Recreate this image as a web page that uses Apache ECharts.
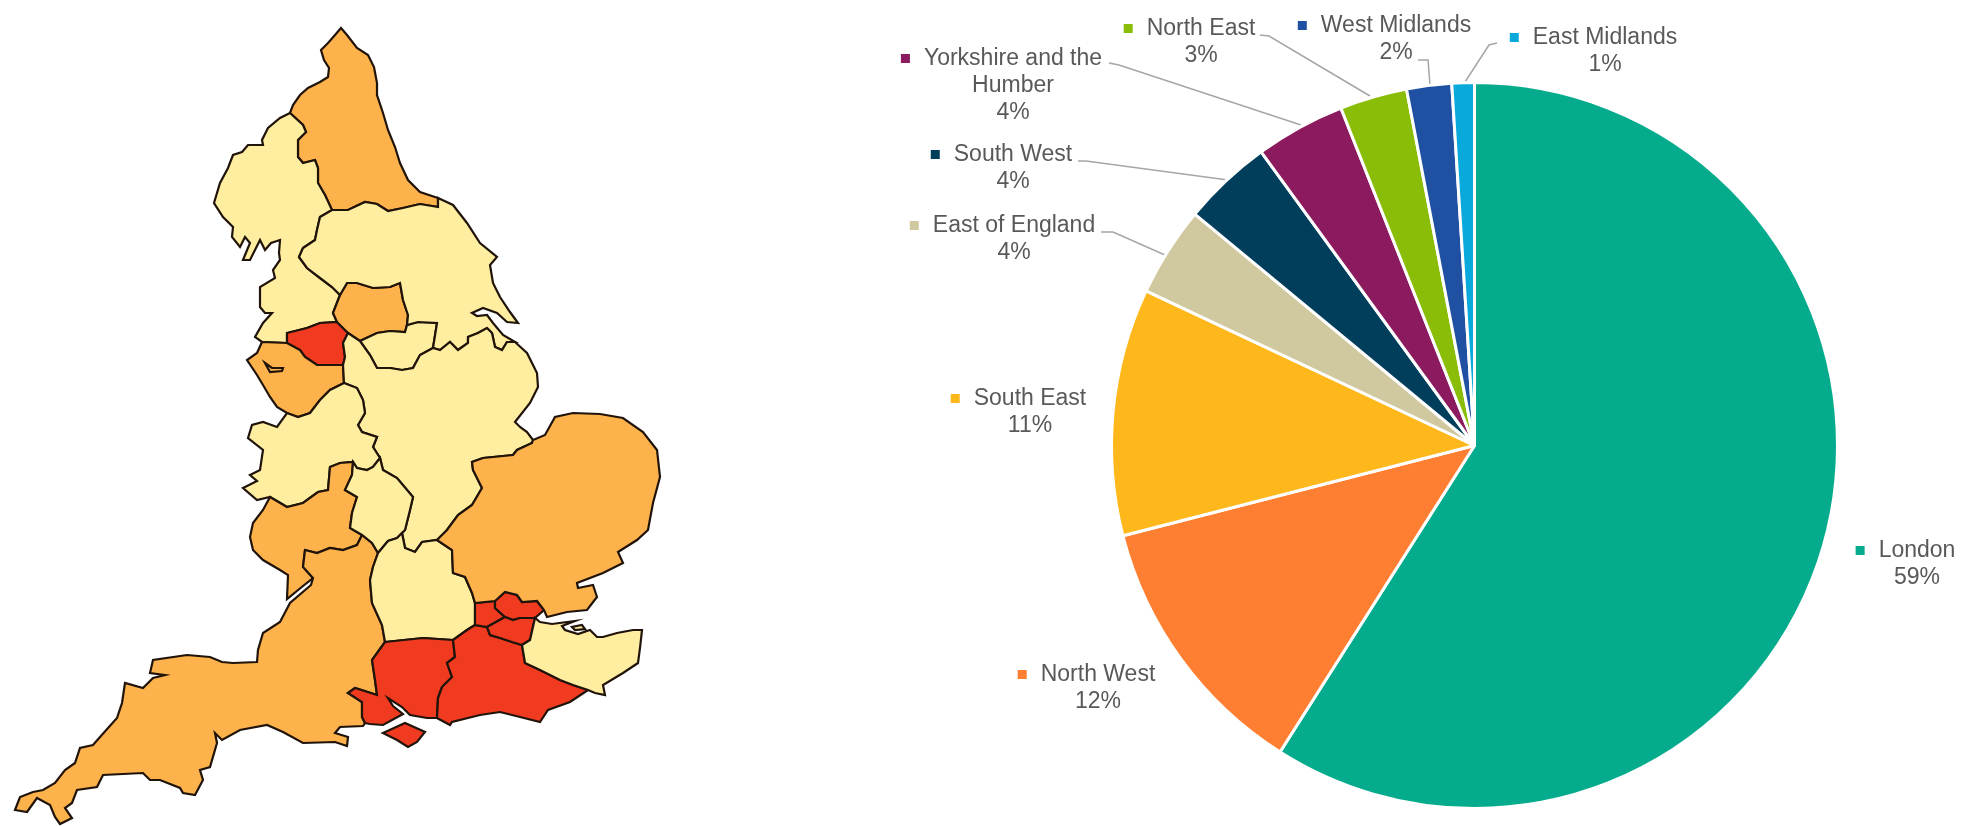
<!DOCTYPE html>
<html>
<head>
<meta charset="utf-8">
<title>England regions</title>
<style>
  html, body { margin: 0; padding: 0; background: #fff; }
  #chart { width: 1969px; height: 826px; }
</style>
<script src="https://cdn.jsdelivr.net/npm/echarts@6/dist/echarts.min.js"></script>
</head>
<body>
<div id="chart"></div>
<script>
// Share of the total by English region
const categories = ['London', 'North West', 'South East', 'East of England', 'South West',
  'Yorkshire and the\nHumber', 'North East', 'West Midlands', 'East Midlands'];
const shares = [59, 12, 11, 4, 4, 4, 3, 2, 1];
const sliceColors = ['#05AB8D', '#FF7F32', '#FFB81C', '#D0C89F', '#003E5C',
  '#8C1A5E', '#8ABD08', '#1F50A2', '#0AA9DC'];

// Choropleth bands for the map areas
const bandColors = ['#FFEDA0', '#FEB24C', '#F03B20'];

// Label anchor (centre x, top y) and leader polyline for every slice
const labelAnchors = [
  [1917, 537], [1098, 661], [1030, 385], [1014, 212], [1013, 141],
  [1013, 45], [1201, 15], [1396, 12], [1605, 24]
];
const leaderLines = [
  null, null, null,
  [[1101, 232], [1113, 232], [1165, 255]],
  [[1078, 161], [1086, 161], [1228, 180]],
  [[1109, 63], [1119, 65], [1301, 125]],
  [[1260, 35], [1269, 36], [1370, 96]],
  [[1418, 60], [1428, 60], [1430, 85]],
  [[1497, 43], [1489, 45], [1465, 82]]
];

// Shared boundaries of the map areas, each used by the two areas either side of it
const borders = {
  neCoast: [[290,113],[293,105],[300,95],[308,88],[320,82],[328,77],[329,68],[324,60],[321,50],[328,43],[335,35],[341,28],[347,35],[357,48],[368,55],[374,67],[377,83],[377,95],[383,113],[388,130],[395,147],[400,163],[408,180],[420,192],[438,198]],
  neSouth: [[438,198],[438,207],[420,204],[403,208],[388,211],[377,204],[365,202],[348,210],[332,210]],
  neWest: [[290,113],[303,125],[306,132],[298,140],[298,157],[303,163],[315,160],[318,168],[318,183],[325,195],[332,210]],
  nwCoast: [[290,113],[280,118],[268,128],[262,140],[263,145],[248,145],[242,152],[233,155],[228,168],[220,183],[214,203],[223,217],[233,227],[232,237],[240,247],[245,237],[250,243],[243,260],[250,260],[260,240],[265,250],[271,243],[280,240],[279,253],[280,260],[273,270],[275,278],[260,287],[260,307],[265,313],[272,313],[263,323],[255,337],[262,342]],
  cheshireTop: [[262,342],[287,343]],
  manchesterTop: [[287,343],[287,333],[307,328],[320,323],[337,322]],
  westYorksWest: [[337,322],[333,313],[340,295]],
  yorksWest: [[340,295],[332,287],[320,278],[307,268],[299,257],[303,248],[315,240],[317,230],[320,217],[332,210]],
  manchesterBottom: [[287,343],[300,350],[305,357],[317,365],[333,365],[343,365]],
  manchesterEast: [[343,365],[345,357],[343,343],[348,333]],
  manchesterNorth: [[348,333],[337,322]],
  cheshireEast: [[343,365],[344,383]],
  cheshireSouth: [[344,383],[330,390],[320,400],[310,413],[298,417],[287,413]],
  cheshireCoast: [[287,413],[277,407],[270,397],[263,385],[257,375],[247,360],[257,353],[262,342]],
  westYorksNorth: [[340,295],[347,283],[357,283],[373,288],[390,287],[400,283],[403,300],[408,315],[407,325]],
  westYorksSouth: [[407,325],[405,332],[390,331],[377,333],[360,341]],
  westYorksCorner: [[360,341],[348,333]],
  southYorksEast: [[407,325],[418,322],[437,323],[433,348]],
  southYorksSouth: [[360,341],[370,355],[377,368],[390,368],[402,370],[413,368],[420,355],[433,348]],
  yorksCoast: [[438,198],[453,205],[467,223],[480,243],[497,257],[490,265],[493,283],[500,297],[510,312],[518,323],[507,322],[497,313],[483,308],[472,313],[477,316],[487,315],[493,323],[503,335],[515,342]],
  yorksSouth: [[515,342],[507,342],[502,350],[495,347],[492,333],[487,328],[478,333],[468,337],[468,343],[458,350],[450,342],[440,350],[433,348]],
  midlandsWest: [[344,383],[357,388],[363,400],[365,413],[358,425],[362,432],[377,437],[373,447]],
  midlandsNotch: [[373,447],[380,458]],
  midlandsCentre: [[380,458],[383,470],[397,478],[413,497],[410,510],[405,530],[397,538]],
  midlandsSouth: [[397,538],[402,533],[405,548],[415,552],[422,542],[437,540]],
  midlandsEast: [[437,540],[447,530],[458,515],[472,505],[482,488],[473,470],[472,462],[483,458],[513,455],[517,450],[532,443],[533,440]],
  midlandsCoast: [[515,342],[527,353],[537,373],[538,387],[530,403],[515,422],[520,427],[527,432],[533,440]],
  welshBorder: [[287,413],[277,427],[263,422],[252,425],[248,438],[263,450],[260,470],[250,475],[257,481],[243,488],[257,500],[270,497]],
  severnNorth: [[270,497],[287,507],[303,503],[318,492],[328,490],[330,467],[340,463],[353,462]],
  heartNorth: [[353,462],[357,468],[367,470],[373,467],[380,458]],
  fingerEast: [[353,462],[352,475],[345,490],[357,497],[352,513],[350,528],[362,535]],
  severnSouth: [[362,535],[357,545],[343,550],[330,548],[317,553],[305,550],[303,567],[313,578]],
  severnCoast: [[313,578],[303,586],[287,599],[288,575],[280,570],[263,560],[253,550],[250,537],[253,523],[263,510],[270,497]],
  heartTail: [[362,535],[372,543],[378,553]],
  peninsulaCoast: [[313,578],[311,585],[290,603],[280,622],[263,633],[258,650],[257,662],[233,663],[222,662],[210,657],[187,655],[153,660],[150,673],[165,675],[153,678],[143,688],[125,683],[122,703],[117,718],[100,737],[93,745],[80,748],[75,763],[65,770],[55,783],[43,790],[33,792],[20,797],[15,810],[27,812],[37,798],[50,805],[55,817],[60,824],[72,818],[65,808],[72,803],[77,790],[97,787],[103,775],[143,773],[150,780],[160,780],[180,788],[183,793],[195,795],[203,780],[200,770],[210,767],[217,743],[215,733],[222,740],[240,730],[267,725],[283,732],[303,743],[335,742],[347,746],[348,737],[335,733],[340,727],[363,726],[365,723]],
  solentWest: [[365,723],[362,717],[362,702],[348,693],[355,688],[377,695],[375,680],[372,660],[385,642]],
  downsWest: [[385,642],[382,625],[372,603],[370,580],[373,567],[378,553]],
  heartSouth: [[397,538],[388,541],[378,553]],
  chilternsEast: [[437,540],[452,550],[453,573],[465,577],[472,593],[475,603]],
  londonWest: [[475,603],[475,625]],
  surreyEdge: [[475,625],[467,630],[453,640]],
  downsNorth: [[453,640],[423,638],[385,642]],
  hampshireEast: [[453,640],[455,657],[447,663],[452,677],[442,687],[438,698],[437,718]],
  solentCoast: [[437,718],[427,718],[410,715],[402,707],[388,698],[393,706],[403,714],[383,725],[370,724],[365,723]],
  londonSouthWest: [[475,625],[487,627]],
  londonInner: [[487,627],[505,617]],
  londonCross: [[505,617],[495,608],[495,601]],
  thamesNorth: [[495,601],[475,603]],
  londonNorth: [[544,610],[537,601],[522,602],[517,595],[505,592],[495,601]],
  londonEast: [[544,610],[535,618]],
  londonMiddle: [[535,618],[520,618],[513,620],[505,617]],
  londonKent: [[535,618],[530,640],[522,645]],
  londonSussex: [[487,627],[490,635],[500,638],[512,642],[522,645]],
  kentWeald: [[522,645],[525,663],[540,670],[560,680],[573,685],[588,690]],
  sussexCoast: [[588,690],[570,702],[548,710],[540,722],[520,717],[500,712],[480,715],[452,722],[450,725],[437,718]],
  kentCoast: [[535,618],[540,622],[552,624],[575,621],[562,626],[565,630],[578,634],[590,630],[597,637],[603,637],[617,633],[633,630],[642,630],[640,648],[638,663],[623,673],[603,685],[605,695],[595,693],[588,690]],
  angliaCoast: [[533,440],[545,435],[555,417],[573,413],[600,414],[623,418],[643,432],[657,450],[660,477],[653,503],[648,530],[637,540],[618,552],[623,563],[603,573],[577,583],[578,588],[593,585],[597,597],[587,610],[567,612],[547,617],[544,610]]
};

// Each area walks its borders in order; a leading "-" walks one backwards
const mapAreas = [
  { name: 'Northumbria', band: 1, rings: [['neCoast', 'neSouth', '-neWest']] },
  { name: 'Lancashire and Cumbria', band: 0, rings: [['nwCoast', 'cheshireTop', 'manchesterTop', 'westYorksWest', 'yorksWest', '-neWest']] },
  { name: 'Greater Manchester', band: 2, rings: [['manchesterTop', '-manchesterNorth', '-manchesterEast', '-manchesterBottom']] },
  { name: 'Cheshire and Merseyside', band: 1, rings: [['cheshireTop', 'manchesterBottom', 'cheshireEast', 'cheshireSouth', 'cheshireCoast']],
    estuaries: [[[265,363],[272,368],[283,368],[282,371],[270,372]]] },
  { name: 'West Yorkshire', band: 1, rings: [['westYorksNorth', 'westYorksSouth', 'westYorksCorner', 'manchesterNorth', 'westYorksWest']] },
  { name: 'South Yorkshire', band: 0, rings: [['-westYorksSouth', 'southYorksEast', '-southYorksSouth']] },
  { name: 'North and East Yorkshire', band: 0, rings: [['-neSouth', 'yorksCoast', 'yorksSouth', '-southYorksEast', '-westYorksNorth', 'yorksWest']] },
  { name: 'East Midlands', band: 0, rings: [['-westYorksCorner', 'southYorksSouth', '-yorksSouth', 'midlandsCoast', '-midlandsEast', '-midlandsSouth', '-midlandsCentre', '-midlandsNotch', '-midlandsWest', '-cheshireEast', 'manchesterEast']] },
  { name: 'West Midlands', band: 0, rings: [['cheshireSouth', 'welshBorder', 'severnNorth', 'heartNorth', '-midlandsNotch', '-midlandsWest']] },
  { name: 'Gloucestershire', band: 1, rings: [['severnNorth', 'fingerEast', 'severnSouth', 'severnCoast']] },
  { name: 'South West', band: 1, rings: [['severnSouth', 'peninsulaCoast', 'solentWest', 'downsWest', '-heartTail']] },
  { name: 'Warwickshire and Northamptonshire', band: 0, rings: [['heartNorth', 'midlandsCentre', 'heartSouth', '-heartTail', '-fingerEast']] },
  { name: 'Oxfordshire and Buckinghamshire', band: 0, rings: [['-heartSouth', 'midlandsSouth', 'chilternsEast', 'londonWest', 'surreyEdge', 'downsNorth', 'downsWest']],
    estuaries: [[[456,567],[461,575],[468,571],[463,566]]] },
  { name: 'Hampshire', band: 2, rings: [['-downsNorth', 'hampshireEast', 'solentCoast', 'solentWest']],
    islands: [[[383,733],[405,723],[425,732],[417,742],[408,747],[397,740]]] },
  { name: 'Surrey and Sussex', band: 2, rings: [['-hampshireEast', '-surreyEdge', 'londonSouthWest', 'londonSussex', 'kentWeald', 'sussexCoast']] },
  { name: 'West London', band: 2, rings: [['londonWest', 'londonSouthWest', 'londonInner', 'londonCross', 'thamesNorth']] },
  { name: 'North London', band: 2, rings: [['-londonNorth', 'londonEast', 'londonMiddle', 'londonCross']] },
  { name: 'South London', band: 2, rings: [['londonInner', '-londonMiddle', 'londonKent', '-londonSussex']] },
  { name: 'Kent', band: 0, rings: [['-londonKent', 'kentCoast', '-kentWeald']],
    estuaries: [[[572,627],[575,630],[585,629],[582,625]]] },
  { name: 'East of England', band: 1, rings: [['midlandsEast', 'angliaCoast', 'londonNorth', 'thamesNorth', '-chilternsEast']] }
];

// Stitch border walks into closed rings
function walk(names) {
  const ring = [];
  names.forEach(function (key) {
    const reversed = key[0] === '-';
    const line = borders[reversed ? key.slice(1) : key];
    const pts = reversed ? line.slice().reverse() : line;
    pts.forEach(function (p, i) { if (i > 0 || ring.length === 0) ring.push(p); });
  });
  ring.push(ring[0]);
  return ring;
}
function closed(r) { return r.concat([r[0]]); }

const geoJson = {
  type: 'FeatureCollection',
  features: mapAreas.map(function (area) {
    const main = [walk(area.rings[0])].concat((area.estuaries || []).map(closed));
    const polygons = [main].concat((area.islands || []).map(function (r) { return [closed(r)]; }));
    return {
      type: 'Feature',
      properties: { name: area.name },
      geometry: { type: 'MultiPolygon', coordinates: polygons }
    };
  })
};
echarts.registerMap('englandAreas', geoJson);

const chart = echarts.init(document.getElementById('chart'), null, { renderer: 'canvas' });

const rich = { t: { fontSize: 23, lineHeight: 27, color: '#595959', align: 'center' },
  gap: { width: 14, height: 9 }, pad: { width: 23, height: 9 } };
sliceColors.forEach(function (c, i) {
  rich['m' + i] = { width: 9, height: 9, backgroundColor: c };
});

function labelFor(index) {
  const lines = categories[index].split('\n');
  const first = '{m' + index + '|}{gap|}{t|' + lines[0] + '}{pad|}';
  const rest = lines.slice(1).map(function (s) { return '{t|' + s + '}'; });
  return [first].concat(rest, ['{t|' + shares[index] + '%}']).join('\n');
}

chart.setOption({
  animation: false,
  backgroundColor: '#ffffff',
  visualMap: {
    show: false,
    seriesIndex: 0,
    type: 'piecewise',
    pieces: bandColors.map(function (c, i) { return { value: i, color: c }; })
  },
  series: [
    {
      type: 'map',
      map: 'englandAreas',
      projection: {
        project: function (p) { return p; },
        unproject: function (p) { return p; }
      },
      boundingCoords: [[0, 0], [1969, 826]],
      left: 0, top: 0, width: 1969, height: 826,
      roam: false,
      silent: true,
      label: { show: false },
      emphasis: { disabled: true },
      select: { disabled: true },
      itemStyle: { borderColor: '#20140a', borderWidth: 2.2, areaColor: '#ffffff' },
      data: mapAreas.map(function (a) { return { name: a.name, value: a.band }; })
    },
    {
      type: 'pie',
      center: [1474.5, 445.5],
      radius: 363,
      startAngle: 90,
      clockwise: true,
      silent: true,
      avoidLabelOverlap: false,
      itemStyle: { borderColor: '#ffffff', borderWidth: 3 },
      label: {
        show: true,
        position: 'outside',
        align: 'center',
        rich: rich,
        formatter: function (p) { return labelFor(p.dataIndex); }
      },
      labelLine: {
        show: true,
        lineStyle: { color: '#a6a6a6', width: 1.5 }
      },
      labelLayout: function (p) {
        const a = labelAnchors[p.dataIndex];
        const out = { x: a[0], y: a[1], align: 'center', verticalAlign: 'top' };
        out.labelLinePoints = leaderLines[p.dataIndex] || [[a[0], a[1]], [a[0], a[1]], [a[0], a[1]]];
        return out;
      },
      data: categories.map(function (name, i) {
        return {
          name: name,
          value: shares[i],
          itemStyle: { color: sliceColors[i] },
          labelLine: { show: !!leaderLines[i] }
        };
      })
    }
  ]
});
</script>
</body>
</html>
